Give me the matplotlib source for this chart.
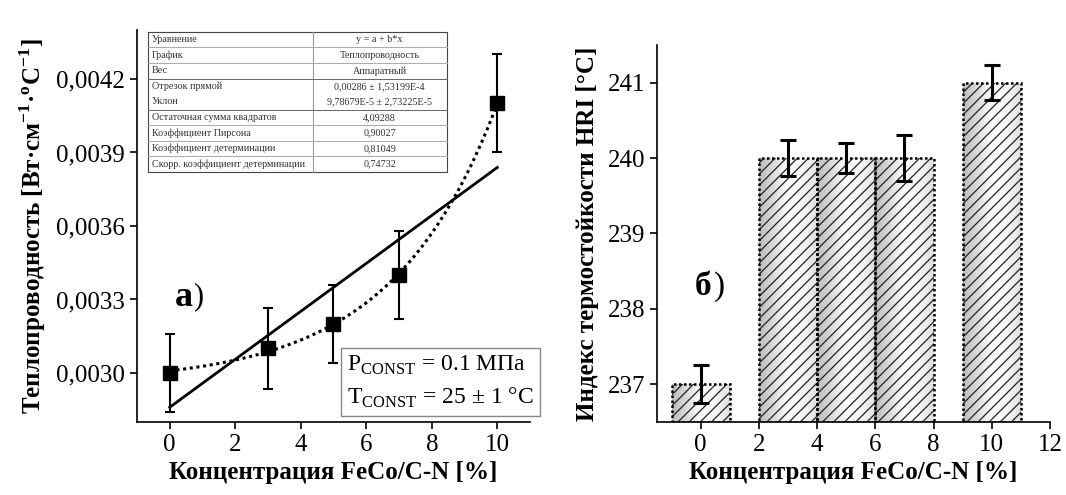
import matplotlib
matplotlib.use('Agg')
import matplotlib.pyplot as plt
from matplotlib.colors import LinearSegmentedColormap
import numpy as np

plt.rcParams['font.family'] = ['Liberation Serif', 'DejaVu Serif']
plt.rcParams['mathtext.fontset'] = 'custom'
plt.rcParams['mathtext.rm'] = 'Liberation Serif'
plt.rcParams['mathtext.bf'] = 'Liberation Serif:bold'
plt.rcParams['hatch.linewidth'] = 0.9

# thermal conductivity vs concentration
conc = [0, 3, 5, 7, 10]
conductivity = [0.0030, 0.0031, 0.0032, 0.0034, 0.0041]
conductivity_err = [0.00016, 0.000165, 0.00016, 0.00018, 0.0002]

# linear fit results (weighted)
fit_a = 0.00286
fit_a_err = 1.53199e-4
fit_b = 9.78679e-5
fit_b_err = 2.73225e-5
fit_rss = 4.09288
fit_pearson = 0.90027
fit_r2 = 0.81049
fit_r2_adj = 0.74732

# HRI index vs concentration
hri_conc = [0, 3, 5, 7, 10]
hri = [237, 240, 240, 240, 241]
hri_err = [0.25, 0.24, 0.2, 0.3, 0.23]

left_yticks = [0.0030, 0.0033, 0.0036, 0.0039, 0.0042]
left_xticks = [0, 2, 4, 6, 8, 10]
right_yticks = [237, 238, 239, 240, 241]
right_xticks = [0, 2, 4, 6, 8, 10, 12]

fig = plt.figure(figsize=(10.66, 4.95), dpi=100)
ax1 = fig.add_axes([0.1285, 0.1475, 0.3687, 0.792])
ax2 = fig.add_axes([0.6163, 0.1475, 0.3687, 0.7616])


def style_axes(ax):
    for s in ['top', 'right']:
        ax.spines[s].set_visible(False)
    for s in ['left', 'bottom']:
        ax.spines[s].set_linewidth(1.2)
    ax.tick_params(direction='out', length=5, width=1.2, labelsize=18)


def comma_fmt(v, pos):
    return ('%.4f' % v).replace('.', ',')


def exp_fit(x, y):
    # y = a + b*exp(c*x): scan c, solve a, b by least squares
    x = np.asarray(x, float)
    y = np.asarray(y, float)
    best = None
    for c in np.linspace(0.01, 1.0, 991):
        A = np.column_stack([np.ones_like(x), np.exp(c * x)])
        sol, res, _, _ = np.linalg.lstsq(A, y, rcond=None)
        err = np.sum((A @ sol - y) ** 2)
        if best is None or err < best[0]:
            best = (err, sol[0], sol[1], c)
    return best[1:]


# ---- left panel ----
style_axes(ax1)
xs = np.linspace(0, 10, 200)
ax1.plot(xs, fit_a + fit_b * xs, color='black', lw=2.0, zorder=2)

# smooth trend through the measured points
ea, eb, ec = exp_fit(conc, conductivity)
ax1.plot(xs, ea + eb * np.exp(ec * xs), color='black', lw=2.2, ls=(0, (1, 1.2)), zorder=2)

ax1.errorbar(conc, conductivity, yerr=conductivity_err, fmt='s', color='black',
             ms=10, ecolor='black', elinewidth=1.5, capsize=3.5, capthick=1.5, zorder=3)

ax1.set_xlim(-1, 11)
ax1.set_ylim(0.0028, 0.0044)
ax1.set_xticks(left_xticks)
ax1.set_yticks(left_yticks)
ax1.yaxis.set_major_formatter(plt.FuncFormatter(comma_fmt))
ax1.set_xlabel('Концентрация FeCo/C-N [%]', fontsize=18, fontweight='bold', labelpad=4)
ax1.set_ylabel(r'Теплопроводность [Вт·см$^{\mathbf{-1}}$·$^{\mathbf{o}}$C$^{\mathbf{-1}}$]',
               fontsize=18, fontweight='bold', labelpad=6)

ax1.text(0.15, 0.00331, 'а', fontsize=26, fontweight='bold', va='center', ha='left')
ax1.text(0.72, 0.00331, ')', fontsize=22, va='center', ha='left')

ax1.text(0.535, 0.03, 'P$_{\\mathrm{CONST}}$ = 0.1 МПа\nT$_{\\mathrm{CONST}}$ = 25 ± 1 °C',
         transform=ax1.transAxes, fontsize=17, ha='left', va='bottom', linespacing=1.5,
         bbox=dict(boxstyle='square,pad=0.25', fc='white', ec='#888888', lw=1.0), zorder=5)

# fit summary table
def num(v):
    return ('%.5f' % v).replace('.', ',')


def sci(v):
    return ('%.5E' % v).replace('.', ',').replace('E-0', 'E-')


rows = [
    ('Уравнение', 'y = a + b*x'),
    ('График', 'Теплопроводность'),
    ('Вес', 'Аппаратный'),
    ('Отрезок прямой', num(fit_a) + ' ± ' + sci(fit_a_err)),
    ('Уклон', sci(fit_b) + ' ± ' + sci(fit_b_err)),
    ('Остаточная сумма квадратов', num(fit_rss)),
    ('Коэффициент Пирсона', num(fit_pearson)),
    ('Коэффициент детерминации', num(fit_r2)),
    ('Скорр. коэффициент детерминации', num(fit_r2_adj)),
]
tx0, tx1, tmid = 0.028, 0.788, 0.447
ty0, ty1 = 0.995, 0.638
rh = (ty0 - ty1) / len(rows)
ax1.plot([tx0, tx1, tx1, tx0, tx0], [ty0, ty0, ty1, ty1, ty0], transform=ax1.transAxes,
         color='#444444', lw=0.8, clip_on=False, zorder=4)
ax1.plot([tmid, tmid], [ty0, ty1], transform=ax1.transAxes, color='#999999', lw=0.8, zorder=4)
for i, (name, val) in enumerate(rows):
    yc = ty0 - (i + 0.5) * rh
    ax1.text(tx0 + 0.01, yc, name, transform=ax1.transAxes, fontsize=7.3, va='center',
             ha='left', color='#333333')
    ax1.text((tmid + tx1) / 2, yc, val, transform=ax1.transAxes, fontsize=7.3, va='center',
             ha='center', color='#333333')
    if i > 0 and i != 4:
        yl = ty0 - i * rh
        ax1.plot([tx0, tx1], [yl, yl], transform=ax1.transAxes,
                 color='#aaaaaa' if i not in (3, 5) else '#666666', lw=0.7, zorder=4)

# ---- right panel ----
style_axes(ax2)
ax2.set_xlim(-1.5, 12)
ax2.set_ylim(236.5, 241.5)

grad = LinearSegmentedColormap.from_list('bar', ['#bcbcbc', '#dcdcdc', '#ffffff', '#f6f6f6', '#e0e0e0'])
bars = ax2.bar(hri_conc, np.array(hri) - 236.5, bottom=236.5, width=2, color='none',
               hatch='///', edgecolor='#222222', lw=0, zorder=2)
for b in bars:
    x0, y0 = b.get_x(), b.get_y()
    w, h = b.get_width(), b.get_height()
    im = ax2.imshow(np.linspace(0, 1, 64).reshape(1, -1), cmap=grad, aspect='auto',
                    extent=[x0, x0 + w, y0, y0 + h], zorder=1)
    im.set_clip_path(b)
ax2.bar(hri_conc, np.array(hri) - 236.5, bottom=236.5, width=2, color='none',
        edgecolor='black', lw=1.8, ls=(0, (1, 1)), zorder=3)
ax2.errorbar(hri_conc, hri, yerr=hri_err, fmt='none', ecolor='black', elinewidth=2.2,
             capsize=6, capthick=2.2, zorder=4)
ax2.set_xlim(-1.5, 12)
ax2.set_ylim(236.5, 241.5)
ax2.set_xticks(right_xticks)
ax2.set_yticks(right_yticks)
ax2.set_xlabel('Концентрация FeCo/C-N [%]', fontsize=18, fontweight='bold', labelpad=4)
ax2.set_ylabel('Индекс термостойкости HRI [°C]', fontsize=18, fontweight='bold', labelpad=6)

ax2.text(-0.2, 238.3, 'б', fontsize=24, fontweight='bold', va='center', ha='left')
ax2.text(0.45, 238.3, ')', fontsize=24, va='center', ha='left')

fig.savefig('out.png', dpi=100)
